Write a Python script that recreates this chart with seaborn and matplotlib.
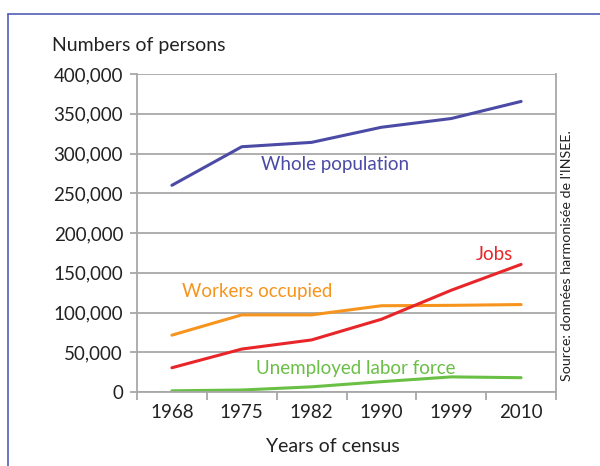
import matplotlib
matplotlib.use("Agg")
import matplotlib.pyplot as plt
import seaborn as sns
import pandas as pd
from matplotlib.lines import Line2D
from matplotlib.ticker import FuncFormatter, FixedLocator

years = ["1968", "1975", "1982", "1990", "1999", "2010"]
whole_population = [260000, 308500, 314000, 333000, 344000, 365500]
workers_occupied = [71500, 97000, 97000, 108500, 109000, 110000]
jobs = [30500, 54000, 65500, 91500, 128000, 160500]
unemployed = [1500, 2500, 6500, 13000, 19000, 18000]
series_names = ["Whole population", "Workers occupied", "Jobs", "Unemployed labor force"]
colors = ["#4b4ba6", "#f7941d", "#e8262a", "#6abf45"]

sns.set_theme(style="white")
plt.rcParams["font.family"] = ["Lato", "DejaVu Sans"]

rows = []
for name, vals in zip(series_names, [whole_population, workers_occupied, jobs, unemployed]):
    for y, v in zip(years, vals):
        rows.append({"year": y, "value": v, "series": name})
df = pd.DataFrame(rows)

fig = plt.figure(figsize=(6, 4.66), dpi=100)
ax = fig.add_axes([137/600, 1-392/466, (556-137)/600, (392-74)/466])

sns.lineplot(data=df, x="year", y="value", hue="series", palette=dict(zip(series_names, colors)),
             linewidth=2.2, legend=False, ax=ax, sort=False)

ax.set_xlim(-0.5, 5.5)
ax.set_ylim(0, 400000)
ax.set_yticks(range(0, 400001, 50000))
ax.yaxis.set_major_formatter(FuncFormatter(lambda v, p: f"{int(v):,}"))
ax.yaxis.grid(True, color="#a8a8a8", linewidth=1.3)
ax.set_axisbelow(True)

ax.set_xticks(range(6))
ax.set_xticklabels(years)
ax.xaxis.set_minor_locator(FixedLocator([i - 0.5 for i in range(7)]))
ax.tick_params(axis="x", which="major", length=0, pad=9, labelsize=13.5, colors="#222222")
ax.tick_params(axis="x", which="minor", length=6, width=1.3, color="#a8a8a8", bottom=True)
ax.tick_params(axis="y", which="major", length=5, width=1.3, color="#a8a8a8", left=True,
               labelsize=13.5, pad=5, labelcolor="#222222")

for s in ["left", "bottom", "right"]:
    ax.spines[s].set_visible(True)
    ax.spines[s].set_color("#a8a8a8")
    ax.spines[s].set_linewidth(1.3)
ax.spines["top"].set_visible(False)
ax.set_xlabel("")
ax.set_ylabel("")

# Series labels
ax.text(1.28, 286000, "Whole population", color=colors[0], fontsize=13.5, va="center", ha="left")
ax.text(4.88, 173000, "Jobs", color=colors[2], fontsize=13.5, va="center", ha="right")
ax.text(0.14, 127000, "Workers occupied", color=colors[1], fontsize=13.5, va="center", ha="left")
ax.text(1.2, 30000, "Unemployed labor force", color=colors[3], fontsize=13.5, va="center", ha="left")

fig.text(52/600, 1-45/466, "Numbers of persons", fontsize=14, color="#222222", va="center", ha="left")
fig.text(333/600, 1-446/466, "Years of census", fontsize=14, color="#222222", va="center", ha="center")
fig.text(567/600, 1-256/466, "Source: données harmonisée de l'INSEE.", fontsize=10.3, color="#222222",
         rotation=90, va="center", ha="center")

frame_c = "#5060b8"
fig.add_artist(Line2D([8/600, 1.0], [1-14/466, 1-14/466], color=frame_c, linewidth=1.2, transform=fig.transFigure))
fig.add_artist(Line2D([8/600, 8/600], [0, 1-14/466], color=frame_c, linewidth=1.2, transform=fig.transFigure))

fig.savefig("out.png", dpi=100)
